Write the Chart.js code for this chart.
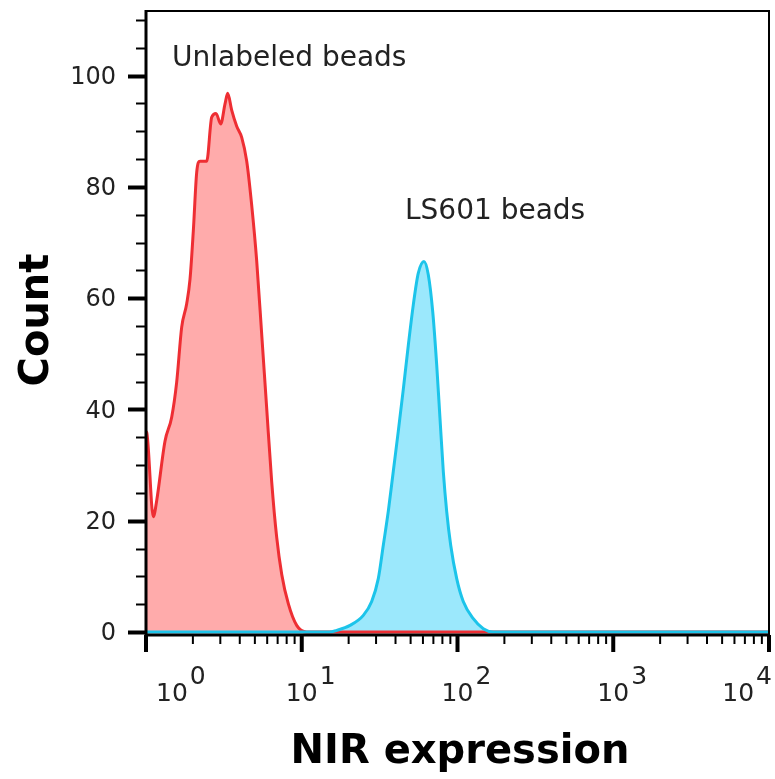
<!DOCTYPE html>
<html>
<head>
<meta charset="utf-8">
<script src="https://cdn.jsdelivr.net/npm/chart.js@4.4.1/dist/chart.umd.min.js"></script>
<style>
  html, body { margin: 0; padding: 0; background: #fff; }
  #wrap { width: 775px; height: 779px; }
</style>
</head>
<body>
<div id="wrap"><canvas id="histChart" width="775" height="779"></canvas></div>
<script>
// Unlabeled beads (red) - NIR expression vs count
const redExpr  = [1.0, 1.01, 1.114, 1.171, 1.324, 1.462, 1.574, 1.695, 1.825, 1.917, 2.012, 2.116, 2.222, 2.453,
                  2.641, 2.814, 3.017, 3.216, 3.346, 3.549, 3.822, 4.116, 4.433, 4.771, 5.137, 5.532, 5.956,
                  6.413, 6.906, 7.435, 8.198, 9.28, 10.76, 10000];
const redCount = [36, 35.9, 20.7, 23.6, 34.3, 38.6, 44.9, 54.8, 59, 63.4, 72, 82.6, 84.6, 84.6,
                  92.5, 93.2, 91.3, 94.9, 96.8, 93.8, 90.9, 88.9, 84.6, 76.7, 66.7, 53.5, 40.2,
                  27, 17, 10.4, 5.1, 1.2, 0, 0];

// LS601 beads (cyan)
const cyanExpr  = [1.0, 15.0, 16.77, 20.41, 24.85, 28.12, 31.01, 33.39, 35.95, 38.71, 41.68, 44.87, 48.31, 52.02,
                   56.01, 60.93, 64.94, 69.31, 73.53, 77.19, 81.05, 85.22, 90.44, 98.83, 108.9, 126.3,
                   146.5, 169.8, 10000];
const cyanCount = [0, 0, 0.3, 1.2, 3.0, 5.5, 9.6, 15.6, 21.7, 28.9, 36.1, 43.6, 51.5, 58.8,
                   64.5, 66.6, 64.2, 57.6, 48, 38.4, 28.9, 21.7, 15.6, 9.6, 5.5, 2.4,
                   0.6, 0, 0];

// axis ticks
const yMajorTicks = [0, 20, 40, 60, 80, 100];
const xDecades = [0, 1, 2, 3, 4];

const toPoints = (xs, ys) => xs.map((x, i) => ({ x: x, y: ys[i] }));

// Axis / frame / text drawing
const decorPlugin = {
    id: 'decor',
    afterDraw(chart) {
        const c = chart.ctx;
        const xs = chart.scales.x, ys = chart.scales.y;
        const a = chart.chartArea;
        c.save();
        c.strokeStyle = '#000';
        c.fillStyle = '#222';

        // frame
        c.lineWidth = 2;
        c.beginPath();
        c.moveTo(a.left, a.top); c.lineTo(a.right, a.top); c.lineTo(a.right, a.bottom);
        c.stroke();
        c.lineWidth = 3;
        c.beginPath();
        c.moveTo(a.left, a.top - 1); c.lineTo(a.left, a.bottom + 1);
        c.moveTo(a.left - 1, a.bottom + 1); c.lineTo(a.right + 1, a.bottom + 1);
        c.stroke();

        // y ticks (every 5, major every 20)
        for (let v = 0; v <= 110; v += 5) {
            const py = Math.round(ys.getPixelForValue(v)) + 0.5;
            const major = yMajorTicks.includes(v);
            c.lineWidth = major ? 4 : 2;
            c.beginPath();
            c.moveTo(a.left - (major ? 18 : 10), py);
            c.lineTo(a.left, py);
            c.stroke();
        }
        c.font = '24px "DejaVu Sans"';
        c.textAlign = 'right';
        c.textBaseline = 'middle';
        yMajorTicks.forEach(v => {
            c.fillText(String(v), 116, ys.getPixelForValue(v) + 2);
        });

        // x ticks (log decades + minors)
        const base = a.bottom + 1;
        xDecades.forEach(d => {
            const px = xs.getPixelForValue(Math.pow(10, d));
            c.lineWidth = 4;
            c.beginPath(); c.moveTo(px, base); c.lineTo(px, base + 17); c.stroke();
            if (d < 4) {
                for (let m = 2; m <= 9; m++) {
                    const pm = xs.getPixelForValue(m * Math.pow(10, d));
                    c.lineWidth = 2;
                    c.beginPath(); c.moveTo(pm, base); c.lineTo(pm, base + 9); c.stroke();
                }
            }
        });
        c.font = '25px "DejaVu Sans"';
        c.textAlign = 'left';
        c.textBaseline = 'alphabetic';
        xDecades.forEach(d => {
            const px = xs.getPixelForValue(Math.pow(10, d));
            const wBase = c.measureText('10').width;
            const wSup = c.measureText(String(d)).width;
            let left = px - wBase / 2;
            const total = wBase + 2 + wSup;
            if (left < 156) left = 156;
            if (left + total > 772) left = 772 - total;
            c.fillText('10', left, 701);
            c.fillText(String(d), left + wBase + 2, 684);
        });

        // axis titles
        c.fillStyle = '#000';
        c.font = 'bold 40px "DejaVu Sans"';
        c.textAlign = 'center';
        c.fillText('NIR expression', 460, 763);
        c.save();
        c.translate(48, 320);
        c.rotate(-Math.PI / 2);
        c.fillText('Count', 0, 0);
        c.restore();

        // annotations
        c.fillStyle = '#222';
        c.font = '28px "DejaVu Sans"';
        c.textAlign = 'left';
        c.fillText('Unlabeled beads', xs.getPixelForValue(1.47), ys.getPixelForValue(101.7));
        c.fillText('LS601 beads', xs.getPixelForValue(46), ys.getPixelForValue(74.2));
        c.restore();
    }
};

const ctx = document.getElementById('histChart').getContext('2d');
const histChart = new Chart(ctx, {
    type: 'line',
    data: {
        datasets: [{
            label: 'LS601 beads',
            data: toPoints(cyanExpr, cyanCount),
            borderColor: '#1cc4ea',
            backgroundColor: '#9be8fc',
            borderWidth: 3,
            fill: 'origin',
            pointRadius: 0,
            cubicInterpolationMode: 'monotone'
        }, {
            label: 'Unlabeled beads',
            data: toPoints(redExpr, redCount),
            borderColor: '#ee2e33',
            backgroundColor: '#ffabab',
            borderWidth: 3,
            fill: 'origin',
            pointRadius: 0,
            cubicInterpolationMode: 'monotone'
        }]
    },
    options: {
        responsive: false,
        animation: false,
        layout: { padding: { left: 146, right: 6, top: 11, bottom: 145 } },
        plugins: {
            legend: { display: false },
            tooltip: { enabled: false },
            filler: { drawTime: 'beforeDatasetsDraw' }
        },
        scales: {
            x: { type: 'logarithmic', min: 1, max: 10000, display: false },
            y: { type: 'linear', min: -0.35, max: 111.6, display: false }
        }
    },
    plugins: [decorPlugin]
});
</script>
</body>
</html>
